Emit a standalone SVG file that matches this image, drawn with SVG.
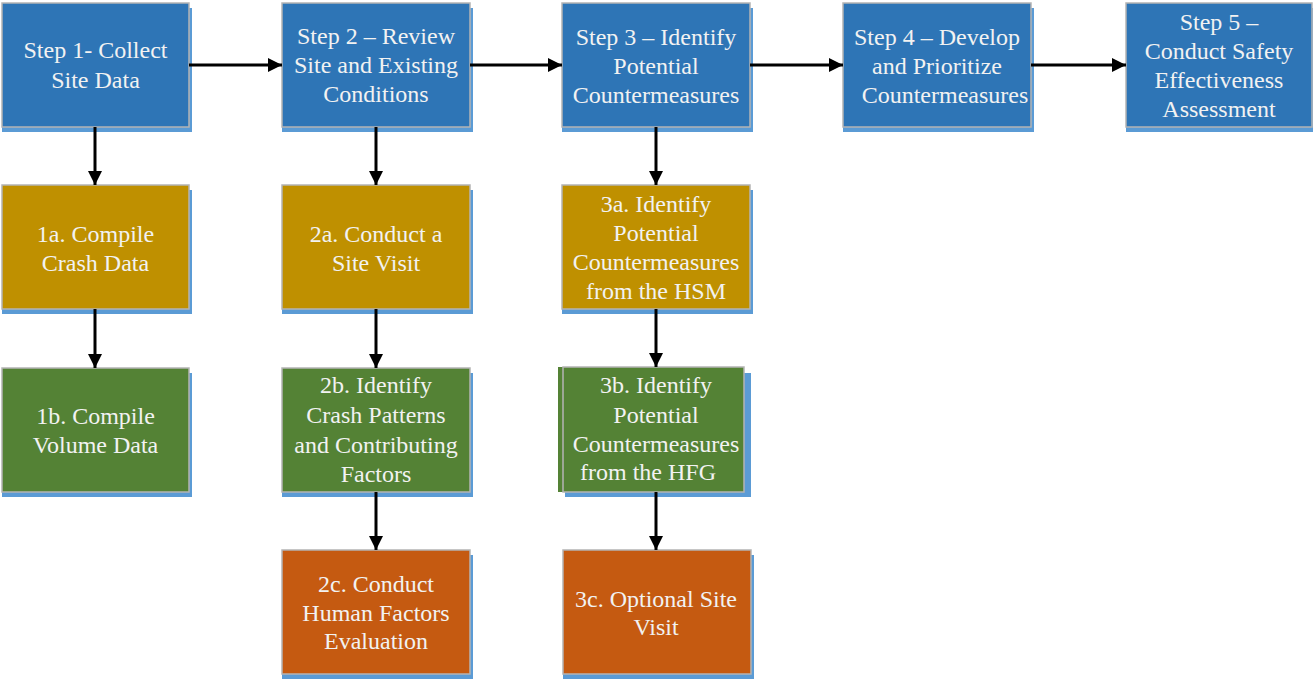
<svg xmlns="http://www.w3.org/2000/svg" width="1313" height="682" viewBox="0 0 1313 682">
<defs>
<style>
.sh{fill:#5b9bd5}
.bd{fill:none;stroke:#b4b4b4;stroke-width:1.5}
.blue{fill:#2e75b6}
.gold{fill:#bf9000}
.green{fill:#548235}
.orange{fill:#c55a11}
text{font-family:"Liberation Serif","Times New Roman",serif;font-size:24px;fill:#f2f2f2;text-anchor:middle}
.ln{stroke:#000;stroke-width:3;fill:none}
</style>
<marker id="ah" viewBox="0 0 10 10" refX="10" refY="5" markerWidth="14" markerHeight="14" markerUnits="userSpaceOnUse" orient="auto">
<path d="M0,0 L10,5 L0,10 z" fill="#000"/>
</marker>
</defs>
<rect width="1313" height="682" fill="#fff"/>

<g id="step1">
<rect class="sh" x="2" y="8" width="190" height="124"/>
<rect class="blue" x="2" y="3" width="187" height="124"/>
<rect class="bd" x="2" y="3" width="187" height="124"/>
<text x="95.5" y="58">Step 1- Collect</text>
<text x="95.5" y="88">Site Data</text>
</g>
<g id="step2">
<rect class="sh" x="282" y="8" width="191" height="124"/>
<rect class="blue" x="282" y="3" width="188" height="124"/>
<rect class="bd" x="282" y="3" width="188" height="124"/>
<text x="376" y="44">Step 2 – Review</text>
<text x="376" y="73">Site and Existing</text>
<text x="376" y="102">Conditions</text>
</g>
<g id="step3">
<rect class="sh" x="562" y="8" width="191" height="124"/>
<rect class="blue" x="562" y="3" width="188" height="124"/>
<rect class="bd" x="562" y="3" width="188" height="124"/>
<text x="656" y="45">Step 3 – Identify</text>
<text x="656" y="74">Potential</text>
<text x="656" y="103">Countermeasures</text>
</g>
<g id="step4">
<rect class="sh" x="843" y="8" width="191" height="124"/>
<rect class="blue" x="843" y="3" width="188" height="124"/>
<rect class="bd" x="843" y="3" width="188" height="124"/>
<text x="937" y="45">Step 4 – Develop</text>
<text x="937" y="74">and Prioritize</text>
<text x="945" y="103">Countermeasures</text>
</g>
<g id="step5">
<rect class="sh" x="1126" y="8" width="190" height="124"/>
<rect class="blue" x="1126" y="3" width="186" height="124"/>
<rect class="bd" x="1126" y="3" width="186" height="124"/>
<text x="1219" y="30">Step 5 –</text>
<text x="1219" y="59">Conduct Safety</text>
<text x="1219" y="88">Effectiveness</text>
<text x="1219" y="117">Assessment</text>
</g>

<g id="n1a">
<rect class="sh" x="2" y="190" width="190" height="124"/>
<rect class="gold" x="2" y="185" width="187" height="124"/>
<rect class="bd" x="2" y="185" width="187" height="124"/>
<text x="95.5" y="242">1a. Compile</text>
<text x="95.5" y="271">Crash Data</text>
</g>
<g id="n2a">
<rect class="sh" x="282" y="190" width="191" height="124"/>
<rect class="gold" x="282" y="185" width="188" height="124"/>
<rect class="bd" x="282" y="185" width="188" height="124"/>
<text x="376" y="242">2a. Conduct a</text>
<text x="376" y="271">Site Visit</text>
</g>
<g id="n3a">
<rect class="sh" x="562" y="190" width="191" height="124"/>
<rect class="gold" x="562" y="185" width="188" height="124"/>
<rect class="bd" x="562" y="185" width="188" height="124"/>
<text x="656" y="212">3a. Identify</text>
<text x="656" y="241">Potential</text>
<text x="656" y="270">Countermeasures</text>
<text x="656" y="299">from the HSM</text>
</g>

<g id="n1b">
<rect class="sh" x="2" y="373" width="190" height="124"/>
<rect class="green" x="2" y="368" width="187" height="124"/>
<rect class="bd" x="2" y="368" width="187" height="124"/>
<text x="95.5" y="424">1b. Compile</text>
<text x="95.5" y="453">Volume Data</text>
</g>
<g id="n2b">
<rect class="sh" x="282" y="373" width="191" height="124"/>
<rect class="green" x="282" y="368" width="188" height="124"/>
<rect class="bd" x="282" y="368" width="188" height="124"/>
<text x="376" y="393">2b. Identify</text>
<text x="376" y="423">Crash Patterns</text>
<text x="376" y="453">and Contributing</text>
<text x="376" y="482">Factors</text>
</g>
<g id="n3b">
<rect class="sh" x="565" y="373" width="186" height="124"/>
<rect class="green" x="558" y="367" width="186" height="125"/>
<rect class="bd" x="563" y="367" width="181" height="125"/>
<text x="656" y="393">3b. Identify</text>
<text x="656" y="423">Potential</text>
<text x="656" y="452">Countermeasures</text>
<text x="648" y="480">from the HFG</text>
</g>

<g id="n2c">
<rect class="sh" x="282" y="555" width="191" height="124"/>
<rect class="orange" x="282" y="550" width="188" height="124"/>
<rect class="bd" x="282" y="550" width="188" height="124"/>
<text x="376" y="592">2c. Conduct</text>
<text x="376" y="621">Human Factors</text>
<text x="376" y="649">Evaluation</text>
</g>
<g id="n3c">
<rect class="sh" x="563" y="555" width="191" height="124"/>
<rect class="orange" x="563" y="550" width="188" height="124"/>
<rect class="bd" x="563" y="550" width="188" height="124"/>
<text x="656" y="607">3c. Optional Site</text>
<text x="656" y="635">Visit</text>
</g>

<g id="connectors">
<line class="ln" x1="189" y1="65" x2="282" y2="65" marker-end="url(#ah)"/>
<line class="ln" x1="470" y1="65" x2="562" y2="65" marker-end="url(#ah)"/>
<line class="ln" x1="750" y1="65" x2="843" y2="65" marker-end="url(#ah)"/>
<line class="ln" x1="1031" y1="65" x2="1126" y2="65" marker-end="url(#ah)"/>
<line class="ln" x1="95" y1="127" x2="95" y2="185" marker-end="url(#ah)"/>
<line class="ln" x1="376" y1="127" x2="376" y2="185" marker-end="url(#ah)"/>
<line class="ln" x1="656" y1="127" x2="656" y2="185" marker-end="url(#ah)"/>
<line class="ln" x1="95" y1="309" x2="95" y2="368" marker-end="url(#ah)"/>
<line class="ln" x1="376" y1="309" x2="376" y2="368" marker-end="url(#ah)"/>
<line class="ln" x1="656" y1="309" x2="656" y2="367" marker-end="url(#ah)"/>
<line class="ln" x1="376" y1="492" x2="376" y2="550" marker-end="url(#ah)"/>
<line class="ln" x1="656" y1="492" x2="656" y2="550" marker-end="url(#ah)"/>
</g>
</svg>
